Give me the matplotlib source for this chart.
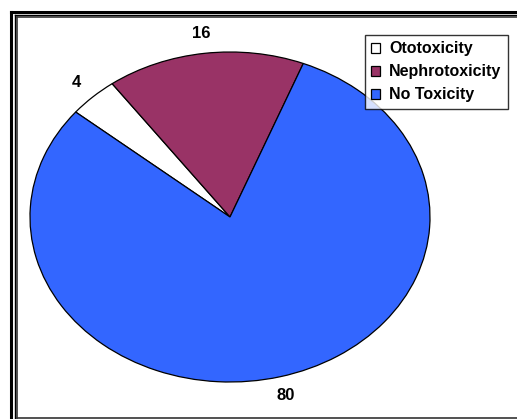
import matplotlib.pyplot as plt
from matplotlib.lines import Line2D

plt.rcParams['font.family'] = ['Liberation Sans', 'DejaVu Sans']

categories = ['Ototoxicity', 'Nephrotoxicity', 'No Toxicity']
values = [4, 16, 80]
colors = ['#FFFFFF', '#993366', '#3366FF']

W, H = 517, 419
fig = plt.figure(figsize=(W / 100, H / 100), dpi=100)

# elliptical pie: axes box sized to the ellipse, aspect left free
ax = fig.add_axes([30 / W, (H - 382) / H, 400 / W, 330 / H])
wedges, texts = ax.pie(values, labels=[str(v) for v in values], colors=colors,
                       startangle=140.5, counterclock=False, labeldistance=1.12,
                       wedgeprops=dict(edgecolor='black', linewidth=0.9),
                       textprops=dict(fontsize=12, fontweight='bold'))
for t in texts:
    t.set_horizontalalignment('center')
    t.set_verticalalignment('center')
ax.set_aspect('auto')
ax.set_xlim(-1, 1)
ax.set_ylim(-1, 1)
ax.axis('off')

# chart frame lines (double border cut off at right/bottom)
def fx(px):
    return px / W

def fy(py):
    return 1 - py / H

fig.add_artist(Line2D([fx(10.5), fx(W + 5)], [fy(12), fy(12)], color='black', lw=2.2))
fig.add_artist(Line2D([fx(10.5), fx(10.5)], [fy(12), fy(H + 5)], color='black', lw=2.2))
fig.add_artist(Line2D([fx(14.5), fx(W + 5)], [fy(15.5), fy(15.5)], color='black', lw=1.0))
fig.add_artist(Line2D([fx(14.5), fx(14.5)], [fy(15.5), fy(H + 5)], color='black', lw=1.0))
fig.add_artist(Line2D([fx(16.5), fx(W + 5)], [fy(17.5), fy(17.5)], color='#333333', lw=1.2))
fig.add_artist(Line2D([fx(16.5), fx(16.5)], [fy(17.5), fy(417.5)], color='#333333', lw=1.2))
fig.add_artist(Line2D([fx(16.5), fx(W + 5)], [fy(417.5), fy(417.5)], color='#333333', lw=1.2))

leg = fig.legend(wedges, categories, loc='upper right',
                 bbox_to_anchor=(fx(508), fy(35)), borderaxespad=0,
                 frameon=True, fancybox=False,
                 edgecolor='black', handlelength=0.55, handleheight=0.55,
                 handletextpad=0.6, labelspacing=0.5, borderpad=0.4,
                 prop=dict(size=11.5, weight='bold'))
leg.get_frame().set_linewidth(1.0)

fig.savefig('out.png', dpi=100)
